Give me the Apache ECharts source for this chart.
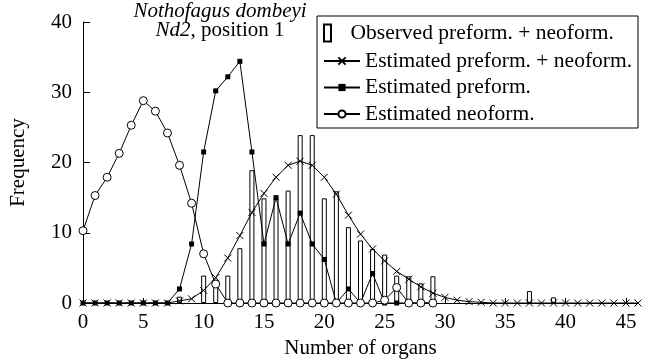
<!DOCTYPE html>
<html><head><meta charset="utf-8">
<script src="https://cdn.jsdelivr.net/npm/echarts@6/dist/echarts.min.js"></script>
<style>html,body{margin:0;padding:0;background:#fff}#c{width:647px;height:364px}</style>
</head><body><div id="c"></div>
<script>
const xTicks = [0,5,10,15,20,25,30,35,40,45];
const yTicks = [0,10,20,30,40];
const seriesNames = ['Observed preform. + neoform.','Estimated preform. + neoform.','Estimated preform.','Estimated neoform.'];
// observed bars: [organs, frequency]
const observedX = [8,10,11,12,13,14,15,16,17,18,19,20,21,22,23,24,25,26,27,28,29,37,39];
const observedY = [0.9,3.9,2.9,3.9,7.8,18.9,14.9,14.9,16.0,23.9,23.9,14.9,15.9,10.8,8.9,7.7,6.9,3.9,3.8,2.8,3.8,1.7,0.8];
// estimated total, x = 0..46
const totalY = [0,0,0,0,0,0,0,0,0.3,0.6,1.8,3.6,6.4,9.6,12.9,15.6,17.9,19.6,20.2,19.6,17.9,15.5,12.5,9.8,7.7,6.0,4.5,3.4,2.3,1.4,0.8,0.4,0.2,0.1,0,0,0,0,0,0,0,0,0,0,0,0,0];
// estimated preform, x = 0..29
const preformY = [0,0,0,0,0,0,0,0,2.0,8.4,21.5,30.2,32.2,34.4,21.5,8.4,15.0,8.4,12.8,8.4,6.2,0,2.0,0,4.2,0,0,0,0,0];
// estimated neoform, x = 0..29
const neoformY = [10.3,15.3,17.9,21.3,25.3,28.8,27.3,24.2,19.6,14.2,7.0,2.7,0,0,0,0,0,0,0,0,0,0,0,0,0,0.4,2.2,0,0,0];

const FONT = 'Liberation Serif';
const pairs = arr => arr.map((v,i)=>[i,v]);
const chart = echarts.init(document.getElementById('c'), null, {renderer:'canvas'});
const txt = (size, extra) => Object.assign({fontFamily:FONT, fontSize:size, fontWeight:'normal', color:'#000'}, extra||{});
chart.setOption({
  animation:false,
  backgroundColor:'#fff',
  title:{
    text:'{i|Nothofagus dombeyi}\n{i|Nd2}{n|, position 1}',
    left:215, top:-3, textAlign:'center',
    textStyle:txt(21,{lineHeight:19,
      rich:{i:txt(21,{fontStyle:'italic',lineHeight:19}),
            n:txt(21,{lineHeight:19})}})
  },
  graphic:[{type:'rect', shape:{x:317,y:16,width:321,height:112}, style:{fill:'none',stroke:'#000',lineWidth:1}, z:1}],
  legend:[
    {data:[{name:seriesNames[0], icon:'path://M0,0L7,0L7,17L0,17Z'}], left:323, top:22, orient:'vertical',
     itemWidth:36, itemHeight:17, padding:0, selectedMode:false,
     textStyle:txt(21.5)},
    {data:seriesNames.slice(1), left:323, top:50, orient:'vertical', itemGap:4.5,
     itemWidth:36, itemHeight:9, padding:0, selectedMode:false,
     textStyle:txt(21.5)}
  ],
  grid:{left:83, right:9, top:22, bottom:61, containLabel:false},
  xAxis:{type:'value', min:0, max:46, interval:5,
    name:'Number of organs', nameLocation:'middle', nameGap:33,
    nameTextStyle:txt(21),
    axisLine:{lineStyle:{color:'#000',width:1}},
    axisTick:{inside:true,length:5,lineStyle:{color:'#000'}},
    axisLabel:txt(21,{margin:9,showMaxLabel:false,
      formatter:v=> xTicks.includes(v)? String(v):''}),
    splitLine:{show:false}},
  yAxis:{type:'value', min:0, max:40, interval:10,
    name:'Frequency', nameLocation:'middle', nameGap:54, nameRotate:90,
    nameTextStyle:txt(21),
    axisLine:{show:true,lineStyle:{color:'#000',width:1}},
    axisTick:{show:true,inside:true,length:7,lineStyle:{color:'#000'}},
    axisLabel:txt(21,{margin:11,
      formatter:v=> yTicks.includes(v)? String(v):''}),
    splitLine:{show:false}},
  series:[
    {name:seriesNames[0], type:'bar', barWidth:5, z:2,
     data:observedX.map((x,i)=>[x,observedY[i]]),
     itemStyle:{color:'#fff',borderColor:'#000',borderWidth:1}},
    {name:seriesNames[1], type:'line', z:3, data:pairs(totalY),
     symbol:'path://M0,0L10,10M10,0L0,10', symbolSize:7, showAllSymbol:true,
     lineStyle:{color:'#000',width:1},
     itemStyle:{color:'#000',borderColor:'#000',borderWidth:1}},
    {name:seriesNames[2], type:'line', z:4, data:pairs(preformY),
     symbol:'rect', symbolSize:5, showAllSymbol:true,
     lineStyle:{color:'#000',width:1},
     itemStyle:{color:'#000'}},
    {name:seriesNames[3], type:'line', z:5, data:pairs(neoformY),
     symbol:'circle', symbolSize:8, showAllSymbol:true,
     lineStyle:{color:'#000',width:1},
     itemStyle:{color:'#fff',borderColor:'#000',borderWidth:1}}
  ]
});
</script></body></html>
